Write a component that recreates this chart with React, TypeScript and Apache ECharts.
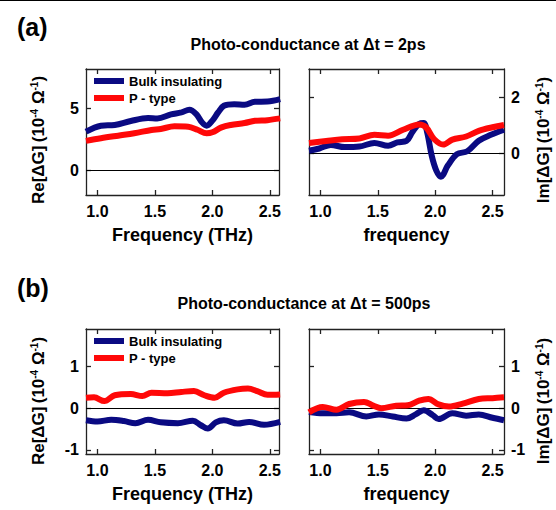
import React, { useEffect, useRef } from "react";
import * as echarts from "echarts";

const X_TICKS = [1.0, 1.5, 2.0, 2.5];
const Y_TICKS_A_RE = [0, 5];
const Y_TICKS_A_IM = [0, 2];
const Y_TICKS_B = [-1, 0, 1];

const SERIES_NAMES = ["Bulk insulating", "P - type"];

const reA_bulk = [[0.9,3.1],[1.03,3.58],[1.15,3.64],[1.29,3.96],[1.44,4.2],[1.52,4.17],[1.64,4.49],[1.73,4.65],[1.8,4.87],[1.86,4.52],[1.91,3.85],[1.95,3.58],[2.0,3.99],[2.05,4.65],[2.1,5.19],[2.19,5.32],[2.28,5.27],[2.37,5.51],[2.48,5.53],[2.59,5.72]];
const reA_p = [[0.9,2.36],[1.03,2.57],[1.18,2.78],[1.32,2.97],[1.47,3.24],[1.55,3.32],[1.67,3.53],[1.79,3.5],[1.87,3.26],[1.95,2.97],[2.0,3.05],[2.08,3.45],[2.16,3.64],[2.28,3.8],[2.37,3.98],[2.48,4.03],[2.59,4.17]];
const imA_bulk = [[0.9,0.08],[0.99,0.16],[1.09,0.29],[1.21,0.21],[1.34,0.23],[1.47,0.36],[1.59,0.26],[1.67,0.38],[1.75,0.43],[1.8,0.74],[1.86,1.04],[1.9,1.07],[1.93,0.74],[1.97,-0.1],[2.01,-0.63],[2.05,-0.85],[2.11,-0.45],[2.19,-0.04],[2.28,0.06],[2.38,0.44],[2.48,0.64],[2.6,0.83]];
const imA_p = [[0.9,0.36],[1.05,0.43],[1.19,0.49],[1.34,0.52],[1.47,0.65],[1.59,0.62],[1.72,0.83],[1.86,1.02],[1.92,0.92],[1.99,0.5],[2.07,0.3],[2.15,0.48],[2.27,0.59],[2.38,0.79],[2.5,0.92],[2.6,1.0]];
const reB_bulk = [[0.9,-0.29],[1.0,-0.32],[1.12,-0.28],[1.23,-0.31],[1.33,-0.36],[1.44,-0.28],[1.55,-0.34],[1.7,-0.36],[1.83,-0.3],[1.9,-0.41],[1.96,-0.49],[2.03,-0.34],[2.1,-0.29],[2.22,-0.37],[2.32,-0.33],[2.45,-0.4],[2.59,-0.33]];
const reB_p = [[0.9,0.25],[0.97,0.26],[1.06,0.17],[1.15,0.31],[1.29,0.34],[1.39,0.29],[1.47,0.37],[1.61,0.36],[1.73,0.39],[1.84,0.41],[1.93,0.31],[2.02,0.25],[2.1,0.37],[2.22,0.45],[2.31,0.47],[2.39,0.41],[2.48,0.32],[2.59,0.33]];
const imB_bulk = [[0.9,-0.09],[1.02,-0.12],[1.14,-0.12],[1.25,-0.1],[1.4,-0.2],[1.51,-0.15],[1.63,-0.2],[1.75,-0.25],[1.83,-0.15],[1.9,-0.05],[1.98,-0.17],[2.03,-0.26],[2.15,-0.12],[2.27,-0.18],[2.38,-0.15],[2.5,-0.23],[2.6,-0.29]];
const imB_p = [[0.9,-0.1],[1.02,0.03],[1.14,-0.04],[1.25,0.1],[1.38,0.15],[1.46,0.06],[1.53,0.0],[1.66,0.06],[1.76,0.07],[1.86,0.18],[1.94,0.22],[2.03,0.09],[2.12,0.04],[2.24,0.11],[2.38,0.22],[2.5,0.24],[2.6,0.26]];

const FONT = "Liberation Sans, Arial, sans-serif";
const BLUE = "#0a0a82";
const RED = "#ff0808";
const AXC = "#222";

type Panel = {
  grid: { left: number; top: number; width: number; height: number };
  xMax: number;
  yMin: number;
  yMax: number;
  yTicks: number[];
  labelSide: "left" | "right";
  xName: string;
  bulk: number[][];
  ptype: number[][];
};

const panels: Panel[] = [
  { grid: { left: 86, top: 69, width: 193, height: 126 }, xMax: 2.58, yMin: -2, yMax: 8.15, yTicks: Y_TICKS_A_RE, labelSide: "left", xName: "Frequency (THz)", bulk: reA_bulk, ptype: reA_p },
  { grid: { left: 309, top: 69, width: 195, height: 126 }, xMax: 2.6, yMin: -1.5, yMax: 3, yTicks: Y_TICKS_A_IM, labelSide: "right", xName: "frequency", bulk: imA_bulk, ptype: imA_p },
  { grid: { left: 86, top: 329, width: 193, height: 125 }, xMax: 2.58, yMin: -1.1, yMax: 1.9, yTicks: Y_TICKS_B, labelSide: "left", xName: "Frequency (THz)", bulk: reB_bulk, ptype: reB_p },
  { grid: { left: 309, top: 329, width: 195, height: 125 }, xMax: 2.6, yMin: -1.1, yMax: 1.9, yTicks: Y_TICKS_B, labelSide: "right", xName: "frequency", bulk: imB_bulk, ptype: imB_p },
];

function yName(prefix: string) {
  return {
    text: `{b|${prefix}} {b|(10}{s|-4}{b| Ω}{s|-1}{b|)}`,
    rich: {
      b: { fontFamily: FONT, fontWeight: "bold", fontSize: 17, fill: "#000" },
      s: { fontFamily: FONT, fontWeight: "bold", fontSize: 10, fill: "#000", verticalAlign: "top" },
    },
  };
}

export default function App() {
  const ref = useRef<HTMLDivElement>(null);
  useEffect(() => {
    if (!ref.current) return;
    const chart = echarts.init(ref.current, null, { renderer: "svg" });
    const grids: any[] = [];
    const xAxes: any[] = [];
    const yAxes: any[] = [];
    const series: any[] = [];
    panels.forEach((p, i) => {
      grids.push({ ...p.grid, show: false });
      const tick = { show: true, inside: true, length: 5, lineStyle: { color: AXC, width: 1.3 } };
      const line = { show: true, onZero: false, lineStyle: { color: AXC, width: 1.3 } };
      xAxes.push({
        type: "value", gridIndex: i, min: 0.9, max: p.xMax, position: "bottom",
        axisLine: line, splitLine: { show: false },
        axisTick: { ...tick, customValues: X_TICKS },
        axisLabel: { customValues: X_TICKS, formatter: (v: number) => v.toFixed(1), fontFamily: FONT, fontWeight: "bold", fontSize: 16, color: "#000", margin: 8 },
        name: p.xName, nameLocation: "middle", nameGap: 31,
        nameTextStyle: { fontFamily: FONT, fontWeight: "bold", fontSize: 18, color: "#000" },
      });
      xAxes.push({
        type: "value", gridIndex: i, min: 0.9, max: p.xMax, position: "top",
        axisLine: line, splitLine: { show: false },
        axisTick: { ...tick, customValues: X_TICKS }, axisLabel: { show: false },
      });
      const labelAxis = {
        type: "value", gridIndex: i, min: p.yMin, max: p.yMax, position: p.labelSide,
        axisLine: line, splitLine: { show: false },
        axisTick: { ...tick, customValues: p.yTicks },
        axisLabel: { customValues: p.yTicks, fontFamily: FONT, fontWeight: "bold", fontSize: 16, color: "#000", margin: 7 },
      };
      const mirrorAxis = {
        type: "value", gridIndex: i, min: p.yMin, max: p.yMax, position: p.labelSide === "left" ? "right" : "left",
        axisLine: line, splitLine: { show: false },
        axisTick: { ...tick, customValues: p.yTicks }, axisLabel: { show: false },
      };
      yAxes.push(labelAxis, mirrorAxis);
      series.push({
        name: SERIES_NAMES[0], type: "line", xAxisIndex: 2 * i, yAxisIndex: 2 * i,
        data: p.bulk, showSymbol: false, smooth: 0.35, lineStyle: { color: BLUE, width: 6 }, itemStyle: { color: BLUE },
        markLine: { silent: true, symbol: "none", label: { show: false }, lineStyle: { color: "#000", width: 1.2, type: "solid" }, data: [{ yAxis: 0 }], z: 1 },
      });
      series.push({
        name: SERIES_NAMES[1], type: "line", xAxisIndex: 2 * i, yAxisIndex: 2 * i,
        data: p.ptype, showSymbol: false, smooth: 0.35, lineStyle: { color: RED, width: 6 }, itemStyle: { color: RED },
      });
    });
    const legendBase = {
      orient: "vertical", data: SERIES_NAMES, icon: "rect", itemWidth: 30, itemHeight: 6, itemGap: 3,
      textStyle: { fontFamily: FONT, fontWeight: "bold", fontSize: 13, color: "#000", lineHeight: 14 }, selectedMode: false,
    };
    chart.setOption({
      animation: false,
      backgroundColor: "#fff",
      grid: grids, xAxis: xAxes, yAxis: yAxes, series,
      legend: [
        { ...legendBase, left: 89, top: 69 },
        { ...legendBase, left: 89, top: 329 },
      ],
      title: [
        { text: "(a)", left: 12, top: 9, textStyle: { fontFamily: FONT, fontWeight: "bold", fontSize: 25, color: "#000" } },
        { text: "(b)", left: 12, top: 270, textStyle: { fontFamily: FONT, fontWeight: "bold", fontSize: 25, color: "#000" } },
        { text: "Photo-conductance at Δt = 2ps", left: 303, textAlign: "center", top: 31, textStyle: { fontFamily: FONT, fontWeight: "bold", fontSize: 16, color: "#000" } },
        { text: "Photo-conductance at Δt = 500ps", left: 299, textAlign: "center", top: 290, textStyle: { fontFamily: FONT, fontWeight: "bold", fontSize: 16, color: "#000" } },
      ],
      graphic: [
        { type: "line", shape: { x1: 0, y1: 0.5, x2: 556, y2: 0.5 }, style: { stroke: "#000", lineWidth: 1.2 } },
        { type: "text", x: 38, y: 140, rotation: Math.PI / 2, style: { ...yName("Re[ΔG]"), align: "center", verticalAlign: "middle" } },
        { type: "text", x: 543, y: 140, rotation: Math.PI / 2, style: { ...yName("Im[ΔG]"), align: "center", verticalAlign: "middle" } },
        { type: "text", x: 38, y: 401, rotation: Math.PI / 2, style: { ...yName("Re[ΔG]"), align: "center", verticalAlign: "middle" } },
        { type: "text", x: 543, y: 401, rotation: Math.PI / 2, style: { ...yName("Im[ΔG]"), align: "center", verticalAlign: "middle" } },
      ],
    });
    return () => chart.dispose();
  }, []);
  return <div ref={ref} style={{ position: "fixed", left: 0, top: 0, width: 556, height: 510 }} />;
}
